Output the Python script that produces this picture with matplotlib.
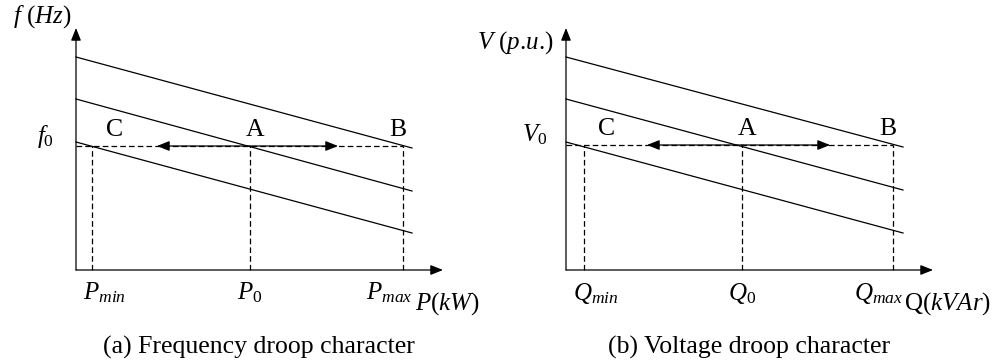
import matplotlib.pyplot as plt

plt.rcParams['font.family'] = ['Liberation Serif']
plt.rcParams['mathtext.fontset'] = 'custom'
plt.rcParams['mathtext.rm'] = 'Liberation Serif'
plt.rcParams['mathtext.it'] = 'Liberation Serif:italic'

# droop line geometry (origin at the axes crossing)
line_x_end = [336, 337]
line_start = [[213, 171, 128], [213, 171, 128]]
line_end = [[122, 79, 37], [123, 80, 37]]

# operating points C, A, B and the reference level
pts_x = [[16, 174, 327], [18, 176, 327]]
ref_level = [124, 125]
arrow_tips = [[81, 262], [81, 264]]
axis_ends = [(367, 242), (367, 242)]

point_names = ["C", "A", "B"]
y_labels = [r"$f$ ($Hz$)", r"$V$ ($p$.$u$.)"]
ref_labels = [r"$f_0$", r"$V_0$"]
x_ticks = [[r"$P_{min}$", r"$P_0$", r"$P_{max}$"],
           [r"$Q_{min}$", r"$Q_0$", r"$Q_{max}$"]]
x_labels = [r"$P$($kW$)", r"Q($kVAr$)"]
captions = ["(a) Frequency droop character", "(b) Voltage droop character"]

fig = plt.figure(figsize=(9.95, 3.64), dpi=100)
W, H = 995, 364
panels = [(0, 497, 76), (490, 505, 76)]
y_label_pos = [(-34, 253), (-51, 227)]
x_label_pos = [(371, -34), (381, -34)]

for i, (left, width, ox) in enumerate(panels):
    ax = fig.add_axes([left / W, 0, width / W, 1])
    ax.set_xlim(-ox, width - ox)
    ax.set_ylim(-94, 270)
    ax.axis("off")

    solid = dict(color="black", lw=0.9)
    dashed = dict(color="black", lw=0.9, ls=(0, (4.5, 2.5)))
    head = dict(arrowstyle="-|>,head_length=0.75,head_width=0.3",
                color="black", lw=0.9, shrinkA=0, shrinkB=0)

    # axes with arrowheads
    xe, ye = axis_ends[i]
    ax.annotate("", xy=(xe, 0), xytext=(0, 0), arrowprops=head)
    ax.annotate("", xy=(0, ye), xytext=(0, 0), arrowprops=head)

    # three parallel droop lines
    for s, e in zip(line_start[i], line_end[i]):
        ax.plot([0, line_x_end[i]], [s, e], **solid)

    lvl = ref_level[i]
    xc, xa, xb = pts_x[i]
    ax.plot([0, xb], [lvl, lvl], **dashed)
    for xp in pts_x[i]:
        ax.plot([xp, xp], [0, lvl], **dashed)

    # arrows from A towards C and B
    tl, tr = arrow_tips[i]
    ax.annotate("", xy=(tl, lvl), xytext=(xa, lvl), arrowprops=head)
    ax.annotate("", xy=(tr, lvl), xytext=(xa, lvl), arrowprops=head)

    for name, xp, dx in zip(point_names, pts_x[i], [23, 5, -5]):
        ax.text(xp + dx, lvl + 16, name, fontsize=18.5, ha="center", va="center")

    for lab, xp, dx in zip(x_ticks[i], pts_x[i], [12, 0, -14]):
        ax.text(xp + dx, -23, lab, fontsize=18, ha="center", va="center")

    ax.text(-31, lvl + 10, ref_labels[i], fontsize=18, ha="center", va="center")
    ax.text(*y_label_pos[i], y_labels[i], fontsize=18, ha="center", va="center")
    ax.text(*x_label_pos[i], x_labels[i], fontsize=18, ha="center", va="center")
    ax.text(183, -77, captions[i], fontsize=18.5, ha="center", va="center")

fig.savefig("out.png", dpi=100)
